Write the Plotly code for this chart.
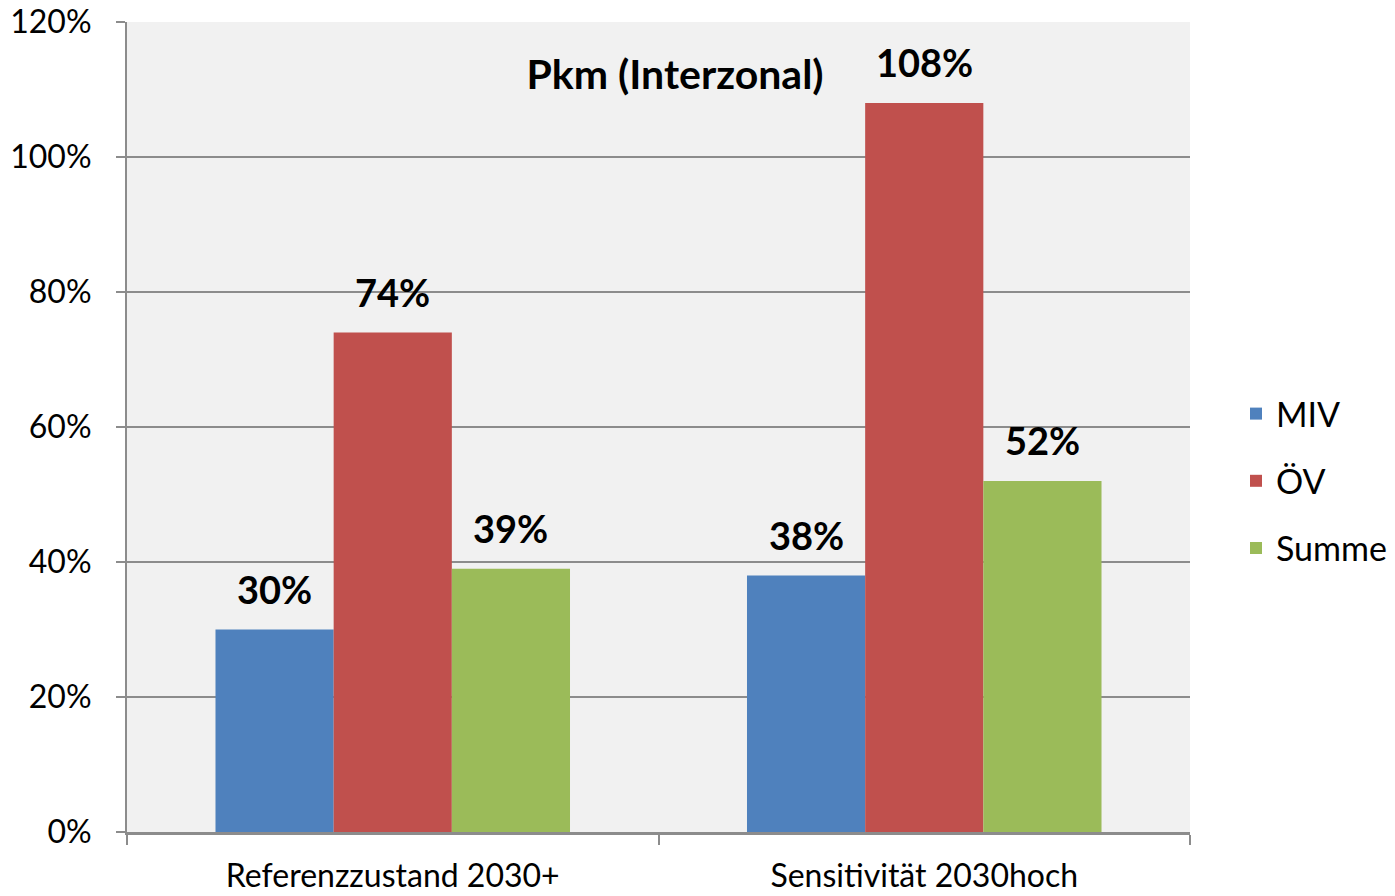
import plotly.graph_objects as go

categories = ["Referenzzustand 2030+", "Sensitivität 2030hoch"]
series_names = ["MIV", "ÖV", "Summe"]
miv = [0.30, 0.38]
oev = [0.74, 1.08]
summe = [0.39, 0.52]
colors = ["#4f81bd", "#c0504d", "#9bbb59"]
y_ticks = [0, 0.2, 0.4, 0.6, 0.8, 1.0, 1.2]

FONT = "Lato, Open Sans, sans-serif"

W, H = 1395, 896
L, R, T, B = 127, 205, 22, 64
BARGAP = 0.333

fig = go.Figure()
for name, vals, col in zip(series_names, [miv, oev, summe], colors):
    fig.add_trace(go.Bar(
        name=name, x=categories, y=vals, marker_color=col, marker_line_width=0,
        legendgroup=name,
    ))

# data labels above each bar
plot_w = W - L - R
cat_w = plot_w / len(categories)
bar_w = cat_w * (1 - BARGAP) / len(series_names)
annotations = []
for i, vals in enumerate([miv, oev, summe]):
    for c, v in zip(categories, vals):
        annotations.append(dict(
            x=c, y=v, xref="x", yref="y", text=f"<b>{round(v*100)}%</b>",
            showarrow=False, xshift=(i - 1) * bar_w, yshift=41,
            yanchor="middle", xanchor="center",
            font=dict(family=FONT, size=38, color="#000000"),
        ))

fig.update_layout(
    width=W, height=H,
    margin=dict(l=L, r=R, t=T, b=B),
    paper_bgcolor="#ffffff", plot_bgcolor="#f1f1f1",
    barmode="group", bargap=BARGAP, bargroupgap=0,
    font=dict(family=FONT, size=33, color="#000000"),
    title=dict(text="<b>Pkm (Interzonal)</b>", x=675 / W, xanchor="center",
               y=1 - 75 / H, yanchor="middle",
               font=dict(family=FONT, size=41, color="#000000")),
    legend=dict(xref="container", yref="container",
                x=1236 / W, xanchor="left", y=1 - 481 / H, yanchor="middle",
                font=dict(family=FONT, size=34), tracegroupgap=20,
                bgcolor="rgba(0,0,0,0)"),
    annotations=annotations,
    showlegend=True,
)
fig.update_yaxes(range=[0, 1.2], tickvals=y_ticks, tickformat=".0%",
                 showgrid=True, gridcolor="#8c8c8c", gridwidth=2,
                 showline=True, linecolor="#8c8c8c", linewidth=2,
                 ticks="outside", ticklen=9, tickcolor="#8c8c8c", tickwidth=2,
                 zeroline=False, ticklabelstandoff=18, automargin=False,
                 ticklabeloverflow="allow", tickfont=dict(size=32))
fig.update_xaxes(showline=True, linecolor="#8c8c8c", linewidth=3,
                 ticks="outside", tickson="boundaries", ticklen=10,
                 tickcolor="#8c8c8c", tickwidth=2, showgrid=False,
                 ticklabelstandoff=14, automargin=False,
                 ticklabeloverflow="allow", tickfont=dict(size=32))

fig.write_html(
    "out.html",
    config={"displayModeBar": False},
    post_script="document.body.style.margin='0';document.body.style.overflow='hidden';",
)
